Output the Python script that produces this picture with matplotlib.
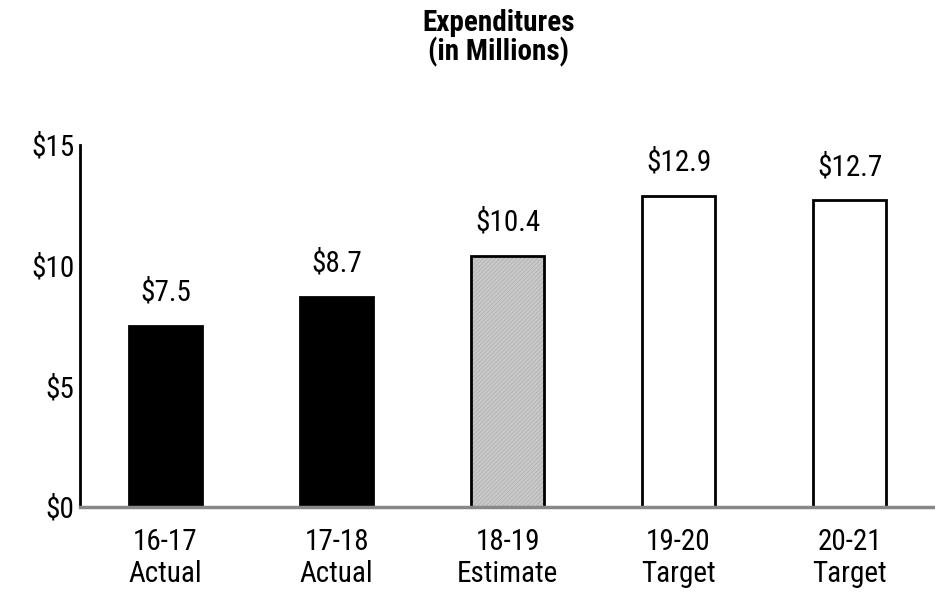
import matplotlib
matplotlib.use("Agg")
import matplotlib.pyplot as plt
from matplotlib import font_manager

names = set(f.name for f in font_manager.fontManager.ttflist)
font = "Liberation Sans"
for cand in ["Liberation Sans Narrow", "Arial Narrow", "Roboto Condensed"]:
    if cand in names:
        font = cand
        break
plt.rcParams['font.family'] = [font, 'DejaVu Sans']
plt.rcParams['hatch.linewidth'] = 0.4

years = ["16-17", "17-18", "18-19", "19-20", "20-21"]
kinds = ["Actual", "Actual", "Estimate", "Target", "Target"]
values = [7.5, 8.7, 10.4, 12.9, 12.7]
yticks = [0, 5, 10, 15]

fill = {"Actual": "black", "Estimate": "#c8c8c8", "Target": "white"}
FS = 21

fig = plt.figure(figsize=(9.35, 5.94), dpi=100)
ax = fig.add_axes([0.0856, 0.1465, 0.9144, 0.6095])

x = list(range(len(years)))
for i, (v, k) in enumerate(zip(values, kinds)):
    if k == "Estimate":
        # fine gray texture, then the black outline on top
        ax.bar(i, v, width=0.43, color=fill[k], edgecolor="#a9a9a9", linewidth=0,
               hatch="////////")
        ax.bar(i, v, width=0.43, fill=False, edgecolor="black", linewidth=2)
    else:
        ax.bar(i, v, width=0.43, color=fill[k], edgecolor="black", linewidth=2)
    ax.text(i, v + 0.8, "${:.1f}".format(v), ha="center", va="bottom", fontsize=FS)

ax.set_xlim(-0.5, len(years) - 0.5)
ax.set_ylim(0, 15)
ax.set_yticks(yticks)
ax.set_yticklabels(["${}".format(t) for t in yticks], fontsize=FS)
ax.set_xticks(x)
ax.set_xticklabels(["{}\n{}".format(a, b) for a, b in zip(years, kinds)], fontsize=FS,
                   linespacing=1.2)
ax.tick_params(length=0)
ax.tick_params(axis="x", pad=15)
ax.tick_params(axis="y", pad=4)

for s in ["top", "right"]:
    ax.spines[s].set_visible(False)
ax.spines["left"].set_linewidth(2)
ax.spines["bottom"].set_color("#888888")
ax.spines["bottom"].set_linewidth(2.5)

fig.text(0.533, 0.985, "Expenditures\n(in Millions)", ha="center", va="top",
         fontsize=FS, fontweight="bold", linespacing=1.0)

fig.savefig("out.png", dpi=100)
